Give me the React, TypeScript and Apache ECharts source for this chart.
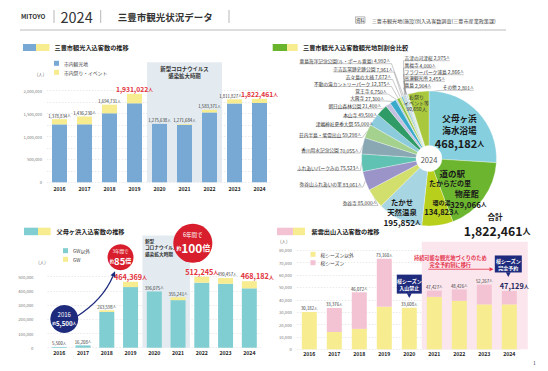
import React, { useEffect, useRef } from 'react';
import * as echarts from 'echarts';

const FONT = '"Noto Sans CJK JP", "Noto Sans", sans-serif';

// ---------------- data ----------------
const YEARS = ['2016', '2017', '2018', '2019', '2020', '2021', '2022', '2023', '2024'];

// 三豊市観光入込客数の推移
const CITY_SPOTS = [1264834, 1266230, 1506731, 1725022, 1275638, 1256684, 1525371, 1721827, 1731811];
const CITY_EVENTS = [114000, 170000, 188000, 206000, 0, 15000, 58000, 90000, 90650];
const CITY_TOTALS = [1378834, 1436230, 1694731, 1931022, 1275638, 1271684, 1583371, 1811827, 1822461];
const CITY_HIGHLIGHT = [3, 8];
const CITY_COVID = [4, 6];

// 父母ヶ浜入込客数の推移
const BEACH_OTHER = [5500, 16208, 252000, 427000, 396075, 335000, 458000, 450457, 418182];
const BEACH_GW = [0, 0, 11598, 37369, 0, 20241, 54245, 40000, 50000];
const BEACH_TOTALS = [5500, 16208, 263598, 464369, 396075, 355241, 512245, 490457, 468182];
const BEACH_HIGHLIGHT = [3, 6, 8];
const BEACH_COVID = [4, 5];

// 紫雲出山入込客数の推移
const SHIUDE_OTHER = [30182, 14000, 16500, 34400, 33608, 42400, 39200, 36300, 36300];
const SHIUDE_SAKURA = [0, 19376, 29572, 38760, 0, 5027, 9226, 15967, 10829];
const SHIUDE_TOTALS = [30182, 33376, 46072, 73160, 33608, 47427, 48426, 52267, 47129];
const SHIUDE_HIGHLIGHT = [8];
const SHIUDE_RESERVE = [5, 8];

// 観光地別割合 2024
const PIE_NAMES = [
  '父母ヶ浜海水浴場', '道の駅たからだの里物産館', '環の湯', 'たかせ天然温泉', '弥谷寺',
  '弥谷山ふれあいの里', 'ふれあいパークみの', '香川用水記念公園', '荘内半島・紫雲出山', '津嶋神社夏季大祭',
  '本山寺', '朝日山森林公園', '大興寺', '覚王寺', '不動の滝カントリーパーク',
  '志々島の大楠', '宗吉瓦窯跡史跡公園', '粟島海洋記念公園(ル・ポール粟島)', '吉津の河津桜', '萬福寺',
  'フラワーパーク浦島', '高瀬観光所', '蔦島', 'その他', 'お祭り・イベント等',
];
const PIE_VALUES = [
  468182, 329066, 134823, 195852, 85000,
  83061, 75523, 70055, 59298, 55000,
  49500, 21400, 27300, 6750, 12375,
  7672, 7961, 4992, 2975, 4000,
  2866, 2455, 2904, 2801, 90650,
];
const PIE_TOTAL = 1822461;
const PIE_YEAR = '2024';

// ---------------- styles / layout ----------------
const BLUE = '#78a9d4';
const YELLOW = '#f7ec8f';
const TEAL = '#80cdd2';
const PINK = '#f4c3d3';
const GREEN = '#6ab42d';
const NAVY = '#1e2b7d';
const RED = '#d81e2c';

const PIE_COLORS = [
  '#85cfdf', '#6cb52f', '#b8cf1c', '#a8d5e2', '#d3df6d',
  '#9a94c9', '#60c2b2', '#8aa8b4', '#a4d28e', '#8ccbdc',
  '#2f9c68', '#c3c1df', '#3aaacb', '#a9c8e2', '#8dbf40',
  '#d6e57c', '#7ab8d5', '#b7d3a0', '#5fb4c8', '#9ea6d2',
  '#9cd2c4', '#c6d9e7', '#7db7a5', '#cbe4ef', '#a9c83e',
];
const PIE_CX = 429;
const PIE_CY = 158.5;
// [mode, dx, dy] relative to pie centre: C inside centred, IL inside left, L/R outside columns
const PIE_LABEL_LAYOUT: [string, number, number][] = [
  ['C', 30.5, -27.2], ['IL', 0, 30.5], ['C', 12.5, 49.2], ['C', -27, 53.5], ['L', -52.5, 44],
  ['L', -67.5, 25.5], ['L', -70, 9], ['L', -70.5, -8.5], ['L', -68, -24], ['L', -56, -35],
  ['L', -52, -44], ['L', -48, -52.8], ['L', -45, -60.5], ['L', -42.5, -67.5], ['L', -39, -75],
  ['L', -38, -82], ['L', -36.5, -89.5], ['L', -39, -97.8], ['R', -24.5, -100.8], ['R', -24.5, -93.5],
  ['R', -24.5, -86.8], ['R', -24.5, -80.2], ['R', -24.5, -73.5], ['R', 13.7, -71.2], ['C', -12.5, -55.8],
];
// per-year horizontal nudges of the total labels (px)
const CITY_LABEL_SHIFT: Record<number, number> = { 7: -4 };
const BEACH_LABEL_SHIFT: Record<number, number> = { 7: 1.5, 8: 8 };
const SHIUDE_LABEL_SHIFT: Record<number, number> = { 8: 5 };

const fmt = (v: number) => v.toLocaleString('en-US');

function txt(x: number, y: number, text: string, size: number, o: any = {}) {
  const align = o.align ?? 'left';
  return {
    type: 'text', x, y, silent: true, z: o.z ?? 50,
    style: {
      text, fontSize: size, fontFamily: FONT, fill: o.fill ?? '#333', fontWeight: o.weight ?? 'normal',
      align, textAlign: align, verticalAlign: 'middle', textVerticalAlign: 'middle',
      lineHeight: o.lh, rich: o.rich,
    },
  };
}

function xAxis(gridIndex: number, margin: number) {
  return {
    type: 'category', gridIndex, data: YEARS,
    axisLine: { show: false }, axisTick: { show: false },
    axisLabel: { fontSize: 5.2, fontWeight: 'bold', color: '#222', fontFamily: FONT, margin },
  };
}
function yAxis(gridIndex: number, max: number, interval: number, step: number, margin: number) {
  return {
    type: 'value', gridIndex, min: 0, max, interval,
    axisLine: { show: false }, axisTick: { show: false },
    axisLabel: {
      fontSize: 4.2, color: '#777', fontFamily: FONT, margin,
      formatter: (v: number) => (v % step === 0 ? fmt(v) : ''),
    },
    splitLine: { lineStyle: { color: '#d4d4d4', width: 0.5, type: [1.5, 1.5] } },
  };
}
function stackBar(name: string, gi: number, stack: string, data: number[], color: string) {
  return { type: 'bar', name, xAxisIndex: gi, yAxisIndex: gi, stack, barWidth: 15, data, itemStyle: { color }, silent: true };
}
function totalBar(gi: number, totals: number[], hi: number[], hiColor: string, hiSize: number, shift: Record<number, number>) {
  return {
    type: 'bar', name: 'total' + gi, xAxisIndex: gi, yAxisIndex: gi, barWidth: 15, barGap: '-100%',
    itemStyle: { color: 'rgba(0,0,0,0)' }, silent: true, z: 3,
    data: totals.map((v, i) => {
      const label: any = {};
      if (hi.includes(i)) label.formatter = `{h|${fmt(v)}}{hu|人}`;
      if (shift[i]) label.offset = [shift[i], 0];
      return { value: v, label: Object.keys(label).length ? label : undefined };
    }),
    label: {
      show: true, position: 'top', distance: 1.5,
      formatter: (p: any) => `{n|${fmt(p.value)}}{u|人}`,
      rich: {
        n: { fontSize: 4.3, color: '#333', fontFamily: FONT },
        u: { fontSize: 3.6, color: '#333', fontFamily: FONT },
        h: { fontSize: hiSize, color: hiColor, fontWeight: 'bold', fontFamily: FONT },
        hu: { fontSize: hiSize * 0.7, color: hiColor, fontWeight: 'bold', fontFamily: FONT },
      },
    },
  };
}

function arrowHead(tip: number[], from: number[], len: number, half: number) {
  const dx = tip[0] - from[0], dy = tip[1] - from[1];
  const l = Math.hypot(dx, dy) || 1;
  const ux = dx / l, uy = dy / l;
  const bx = tip[0] - ux * len, by = tip[1] - uy * len;
  return { base: [bx, by], points: [[tip[0], tip[1]], [bx - uy * half, by + ux * half], [bx + uy * half, by - ux * half]] };
}

function ctext(x: number, y: number, text: string, size: number, fill: string, o: any = {}) {
  const align = o.align ?? 'center';
  return {
    type: 'text', x, y,
    style: {
      text, fontSize: size, fontFamily: FONT, fill, fontWeight: o.weight ?? 'bold',
      align, textAlign: align, verticalAlign: o.va ?? 'middle', textVerticalAlign: o.va ?? 'middle',
      lineHeight: o.lh, rich: o.rich,
    },
  };
}

const whiteRich = (s: number, b: number, t: number) => ({
  s: { fontSize: s, fill: '#fff', fontFamily: FONT, fontWeight: 'bold' },
  b: { fontSize: b, fill: '#fff', fontFamily: FONT, fontWeight: 'bold' },
  t: { fontSize: t, fill: '#fff', fontFamily: FONT, fontWeight: 'bold' },
});

function buildOption() {
  const pieData = PIE_NAMES.map((name, i) => {
    const mode = PIE_LABEL_LAYOUT[i][0];
    const item: any = { name, value: PIE_VALUES[i], itemStyle: { color: PIE_COLORS[i] } };
    if (mode === 'C' || mode === 'IL') item.labelLine = { show: false };
    return item;
  });
  const D = '#1a1a1a';
  pieData[0].label = {
    position: 'inside',
    formatter: (p: any) => `{a|父母ヶ浜}\n{a|海水浴場}\n{n|${fmt(p.value)}}{u|人}`,
    rich: {
      a: { fontSize: 8.6, lineHeight: 12, fontWeight: 'bold', color: D, fontFamily: FONT },
      n: { fontSize: 11, lineHeight: 15, fontWeight: 'bold', color: D, fontFamily: FONT },
      u: { fontSize: 7, lineHeight: 15, fontWeight: 'bold', color: D, fontFamily: FONT },
    },
  };
  pieData[1].label = {
    position: 'inside', align: 'left',
    formatter: (p: any) => `{a|道の駅}\n{b|たからだの里}\n{c|物産館}\n{n|${fmt(p.value)}}{u|人}`,
    rich: {
      a: { fontSize: 8.5, lineHeight: 9, fontWeight: 'bold', color: D, fontFamily: FONT, align: 'left', padding: [0, 0, 0, 10.5] },
      b: { fontSize: 7, lineHeight: 10, fontWeight: 'bold', color: D, fontFamily: FONT, align: 'left' },
      c: { fontSize: 8, lineHeight: 11, fontWeight: 'bold', color: D, fontFamily: FONT, align: 'left', padding: [0, 0, 0, 25.7] },
      n: { fontSize: 8, lineHeight: 10.5, fontWeight: 'bold', color: D, fontFamily: FONT, align: 'left', padding: [0, 0, 0, 21] },
      u: { fontSize: 5.5, lineHeight: 10.5, fontWeight: 'bold', color: D, fontFamily: FONT, align: 'left' },
    },
  };
  pieData[2].label = {
    position: 'inside',
    formatter: (p: any) => `{a|環の湯}\n{n|${fmt(p.value)}}{u|人}`,
    rich: {
      a: { fontSize: 6, lineHeight: 8, fontWeight: 'bold', color: D, fontFamily: FONT },
      n: { fontSize: 7.6, lineHeight: 10, fontWeight: 'bold', color: D, fontFamily: FONT },
      u: { fontSize: 5.2, lineHeight: 10, fontWeight: 'bold', color: D, fontFamily: FONT },
    },
  };
  pieData[3].label = {
    position: 'inside',
    formatter: (p: any) => `{a|たかせ}\n{a|天然温泉}\n{n|${fmt(p.value)}}{u|人}`,
    rich: {
      a: { fontSize: 7.4, lineHeight: 9.8, fontWeight: 'bold', color: D, fontFamily: FONT },
      n: { fontSize: 8.2, lineHeight: 10.5, fontWeight: 'bold', color: D, fontFamily: FONT },
      u: { fontSize: 5.5, lineHeight: 10.5, fontWeight: 'bold', color: D, fontFamily: FONT },
    },
  };
  pieData[24].label = {
    position: 'inside',
    formatter: (p: any) => `{a|お祭り}\n{a|イベント等}\n{a|${fmt(p.value)}人}`,
    rich: { a: { fontSize: 5, lineHeight: 6, color: '#333', fontFamily: FONT } },
  };

  const series: any[] = [
    // chart 1
    stackBar('市内観光地', 0, 'city', CITY_SPOTS, BLUE),
    stackBar('市内祭り・イベント', 0, 'city', CITY_EVENTS, YELLOW),
    totalBar(0, CITY_TOTALS, CITY_HIGHLIGHT, '#e2323c', 6.8, CITY_LABEL_SHIFT),
    {
      type: 'custom', xAxisIndex: 0, yAxisIndex: 0, z: 1, silent: true, data: [CITY_COVID],
      renderItem: (params: any, api: any) => {
        const band = api.size([1, 0])[0];
        const b = api.coord([api.value(0), 0]);
        const t = api.coord([api.value(1), 2620000]);
        const x0 = b[0] - band / 2, x1 = t[0] + band / 2;
        return {
          type: 'group', children: [
            { type: 'rect', shape: { x: x0, y: t[1], width: x1 - x0, height: b[1] - t[1] }, style: { fill: '#e3ebf0' } },
            ctext((x0 + x1) / 2, t[1] + 3, '新型コロナウイルス\n感染拡大時期', 5.4, '#333', { va: 'top', lh: 7 }),
          ],
        };
      },
    },
    // chart 2 pie
    {
      type: 'pie', center: [PIE_CX, PIE_CY], radius: [13, 67.5], startAngle: 90, clockwise: true,
      avoidLabelOverlap: false, silent: true, z: 2,
      itemStyle: { borderColor: '#fff', borderWidth: 0.3 },
      label: {
        show: true, position: 'outside', fontFamily: FONT, fontSize: 4.7, color: '#333',
        formatter: (p: any) => `{t|${p.name}} {v|${fmt(p.value)}}{u|人}`,
        rich: {
          t: { fontSize: 4.7, color: '#333', fontFamily: FONT },
          v: { fontSize: 4.9, color: '#333', fontFamily: FONT },
          u: { fontSize: 3.8, color: '#333', fontFamily: FONT },
        },
      },
      labelLine: { show: true, length: 4, length2: 4, lineStyle: { color: '#777', width: 0.4 } },
      labelLayout: (p: any) => {
        const [mode, dx, dy] = PIE_LABEL_LAYOUT[p.dataIndex];
        const x = PIE_CX + dx, y = PIE_CY + dy;
        if (mode === 'C') return { x, y, align: 'center', verticalAlign: 'middle' };
        if (mode === 'IL') return { x, y, align: 'left', verticalAlign: 'middle' };
        const w = p.labelRect.width;
        const edge = p.labelLinePoints ? p.labelLinePoints[0] : [PIE_CX, PIE_CY];
        const uy = y + 3;
        if (mode === 'L') {
          return { x, y, align: 'right', verticalAlign: 'middle', labelLinePoints: [edge, [x + 1.5, uy], [x - w, uy]] };
        }
        return { x, y, align: 'left', verticalAlign: 'middle', labelLinePoints: [edge, [x - 1, uy], [x + w, uy]] };
      },
      data: pieData,
    },
    // chart 3
    stackBar('GW以外', 1, 'beach', BEACH_OTHER, TEAL),
    stackBar('GW', 1, 'beach', BEACH_GW, YELLOW),
    totalBar(1, BEACH_TOTALS, BEACH_HIGHLIGHT, '#e2323c', 7.3, BEACH_LABEL_SHIFT),
    {
      type: 'custom', xAxisIndex: 1, yAxisIndex: 1, z: 1, silent: true, data: [BEACH_COVID],
      renderItem: (params: any, api: any) => {
        const band = api.size([1, 0])[0];
        const b = api.coord([api.value(0), 0]);
        const t = api.coord([api.value(1), 790000]);
        const x0 = b[0] - band / 2, x1 = t[0] + band / 2;
        return {
          type: 'group', children: [
            { type: 'rect', shape: { x: x0, y: t[1], width: x1 - x0, height: b[1] - t[1] }, style: { fill: '#e3ebf0' } },
            ctext(x0 + 2.5, t[1] + 2, '新型\nコロナウイルス\n感染拡大時期', 4.7, '#333', { va: 'top', lh: 6.6, align: 'left' }),
          ],
        };
      },
    },
    {
      type: 'custom', xAxisIndex: 1, yAxisIndex: 1, z: 10, silent: true, data: [[0, 0]],
      renderItem: (params: any, api: any) => {
        const base = api.coord([0, 0]);
        const t19 = api.coord([3, BEACH_TOTALS[3]]);
        const t22 = api.coord([6, BEACH_TOTALS[6]]);
        const navy = [base[0] + 5, base[1] - 28.7];
        const red1 = [t19[0] - 10, t19[1] - 24.5];
        const red2 = [t22[0] - 9, t22[1] - 31.7];
        const start = [navy[0] + 12.5, navy[1] - 2.5];
        const end = [t19[0] - 15.5, t19[1] - 10.5];
        const cp = [(start[0] + end[0]) / 2 + 7, (start[1] + end[1]) / 2 + 6];
        const head = arrowHead(end, cp, 5.5, 2.6);
        return {
          type: 'group', children: [
            { type: 'bezierCurve', shape: { x1: start[0], y1: start[1], x2: head.base[0], y2: head.base[1], cpx1: cp[0], cpy1: cp[1] }, style: { stroke: NAVY, lineWidth: 1.3, fill: null } },
            { type: 'polygon', shape: { points: head.points }, style: { fill: NAVY } },
            { type: 'circle', shape: { cx: navy[0], cy: navy[1], r: 14 }, style: { fill: NAVY } },
            ctext(navy[0], navy[1] - 5, '2016', 6, '#fff', { weight: 'normal' }),
            ctext(navy[0], navy[1] + 4, '{s|約}{b|5,500}{t|人}', 6, '#fff', { rich: whiteRich(3.8, 6.2, 3.8) }),
            { type: 'circle', shape: { cx: red1[0], cy: red1[1], r: 13 }, style: { fill: RED } },
            ctext(red1[0], red1[1] - 6, '3年間で', 4.5, '#fff', { weight: 'normal' }),
            ctext(red1[0], red1[1] + 3.5, '{s|約}{b|85}{t|倍}', 9, '#fff', { rich: whiteRich(4.2, 9.5, 6) }),
            { type: 'circle', shape: { cx: red2[0], cy: red2[1], r: 19.5 }, style: { fill: RED } },
            ctext(red2[0], red2[1] - 8.5, '6年間で', 5.5, '#fff', { weight: 'normal' }),
            ctext(red2[0] + 0.5, red2[1] + 4.5, '{s|約}{b|100}{t|倍}', 12, '#fff', { rich: whiteRich(4.8, 12, 7.8) }),
          ],
        };
      },
    },
    // chart 4
    stackBar('桜シーズン以外', 2, 'shiude', SHIUDE_OTHER, YELLOW),
    stackBar('桜シーズン', 2, 'shiude', SHIUDE_SAKURA, PINK),
    totalBar(2, SHIUDE_TOTALS, SHIUDE_HIGHLIGHT, '#1f2a5c', 7.3, SHIUDE_LABEL_SHIFT),
    {
      type: 'custom', xAxisIndex: 2, yAxisIndex: 2, z: 1, silent: true, data: [SHIUDE_RESERVE],
      renderItem: (params: any, api: any) => {
        const band = api.size([1, 0])[0];
        const b = api.coord([api.value(0), 0]);
        const t = api.coord([api.value(1), 87000]);
        const x0 = b[0] - band / 2, x1 = t[0] + band / 2 + 6;
        return { type: 'rect', shape: { x: x0, y: t[1], width: x1 - x0, height: b[1] - t[1] }, style: { fill: '#fbe6ee' } };
      },
    },
    {
      type: 'custom', xAxisIndex: 2, yAxisIndex: 2, z: 10, silent: true, data: [SHIUDE_RESERVE],
      renderItem: (params: any, api: any) => {
        const band = api.size([1, 0])[0];
        const b = api.coord([api.value(0), 87000]);
        const x0 = b[0] - band / 2, top = b[1];
        const ay = top + 27.6;
        const tip = [x0 + 71.7, ay];
        const head = arrowHead(tip, [x0, ay], 4, 2);
        const a1 = api.coord([4, SHIUDE_TOTALS[4]]);
        const a2 = api.coord([8, SHIUDE_TOTALS[8]]);
        const tip1 = [a1[0], a1[1] - 9.6];
        const tip2 = [a2[0] - 1, a2[1] - 14];
        const box = (tp: number[], w: number, h: number, text: string) => {
          const by = tp[1] - 4.5 - h;
          return [
            { type: 'rect', shape: { x: tp[0] - w / 2, y: by, width: w, height: h }, style: { fill: NAVY } },
            { type: 'polygon', shape: { points: [[tp[0] - 2.5, by + h - 0.3], [tp[0] + 2.5, by + h - 0.3], [tp[0], tp[1]]] }, style: { fill: NAVY } },
            ctext(tp[0], by + h / 2, text, 5, '#fff', { lh: 6.8 }),
          ];
        };
        return {
          type: 'group', children: [
            ctext(x0 + 28.5, top + 16, '持続可能な観光地づくりのため', 5.2, '#e5304a'),
            ctext(x0 + 28.5, top + 22.6, '完全予約制に移行', 5.2, '#e5304a'),
            { type: 'line', shape: { x1: x0 + 6.5, y1: ay, x2: head.base[0], y2: ay }, style: { stroke: '#e5304a', lineWidth: 0.8 } },
            { type: 'polygon', shape: { points: head.points }, style: { fill: '#e5304a' } },
            ...box(tip1, 25, 19, '桜シーズン\n入山禁止'),
            ...box(tip2, 27, 17, '桜シーズン\n完全予約'),
          ],
        };
      },
    },
  ];

  const legendBase = {
    orient: 'vertical', icon: 'rect', itemWidth: 5, itemHeight: 5, padding: 0,
    textStyle: { fontSize: 4.8, color: '#444', fontFamily: FONT, lineHeight: 6 },
    selectedMode: false,
  };

  const graphic = [
    // header
    txt(21, 16.7, 'MITOYO', 6.3, { weight: 'bold', fill: '#333' }),
    { type: 'line', shape: { x1: 54, y1: 10, x2: 54, y2: 23 }, style: { stroke: '#888', lineWidth: 0.6 } },
    txt(60.5, 16.5, PIE_YEAR, 14.5, { fill: '#333' }),
    { type: 'line', shape: { x1: 100.7, y1: 10, x2: 100.7, y2: 23 }, style: { stroke: '#888', lineWidth: 0.6 } },
    txt(117.7, 16.7, '三豊市観光状況データ', 9.5, { weight: 'bold', fill: '#333' }),
    { type: 'line', shape: { x1: 229, y1: 10, x2: 229, y2: 23 }, style: { stroke: '#888', lineWidth: 0.6 } },
    { type: 'rect', shape: { x: 355.5, y: 16.8, width: 9.5, height: 6.4 }, style: { fill: 'none', stroke: '#555', lineWidth: 0.4 } },
    txt(360.2, 20, '資料', 4.3, { align: 'center', fill: '#444' }),
    txt(371.7, 20, '三豊市観光地(施設)別入込客数調査(三豊市産業政策課)', 5.1, { fill: '#444' }),
    { type: 'line', shape: { x1: 20, y1: 30, x2: 506, y2: 30 }, style: { stroke: '#bbb', lineWidth: 1 } },
    // section titles
    { type: 'rect', shape: { x: 23, y: 44, width: 13, height: 7 }, style: { fill: BLUE } },
    { type: 'rect', shape: { x: 36, y: 44, width: 13.5, height: 7 }, style: { fill: YELLOW } },
    txt(54.5, 47.5, '三豊市観光入込客数の推移', 6.2, { weight: 'bold', fill: '#222' }),
    { type: 'rect', shape: { x: 272.7, y: 44, width: 14.3, height: 7 }, style: { fill: GREEN } },
    { type: 'rect', shape: { x: 287, y: 44, width: 10.7, height: 7 }, style: { fill: YELLOW } },
    txt(303, 47.5, '三豊市観光入込客数観光地別割合比較', 6.2, { weight: 'bold', fill: '#222' }),
    { type: 'rect', shape: { x: 24, y: 227.7, width: 14, height: 7.5 }, style: { fill: TEAL } },
    { type: 'rect', shape: { x: 38, y: 227.7, width: 12.7, height: 7.5 }, style: { fill: YELLOW } },
    txt(56.5, 231.2, '父母ヶ浜入込客数の推移', 6.2, { weight: 'bold', fill: '#222' }),
    { type: 'rect', shape: { x: 277, y: 227.7, width: 16, height: 7.5 }, style: { fill: PINK } },
    { type: 'rect', shape: { x: 293, y: 227.7, width: 12, height: 7.5 }, style: { fill: YELLOW } },
    txt(311.5, 231.2, '紫雲出山入込客数の推移', 6.2, { weight: 'bold', fill: '#222' }),
    // unit labels
    txt(36.7, 74, '(人)', 4.5, { fill: '#666' }),
    txt(38.3, 261.7, '(人)', 4.5, { fill: '#666' }),
    txt(280, 240.7, '(人)', 4.5, { fill: '#666' }),
    // pie centre & total
    txt(PIE_CX, PIE_CY + 0.5, PIE_YEAR, 7.5, { align: 'center', fill: '#555' }),
    txt(495, 216, '合計', 7.6, { align: 'center', weight: 'bold', fill: '#1a1a1a' }),
    txt(497, 230.5, `{n|${fmt(PIE_TOTAL)}}{u|人}`, 12, {
      align: 'center', fill: '#1a1a1a',
      rich: {
        n: { fontSize: 12.3, fontWeight: 'bold', fill: '#1a1a1a', fontFamily: FONT },
        u: { fontSize: 8, fontWeight: 'bold', fill: '#1a1a1a', fontFamily: FONT },
      },
    }),
    txt(534.3, 362.3, '1', 5, { align: 'center', fill: '#444' }),
  ];

  return {
    animation: false,
    backgroundColor: '#fff',
    textStyle: { fontFamily: FONT },
    grid: [
      { left: 47, top: 90.7, width: 225, height: 91.6 },
      { left: 47.4, top: 276.7, width: 213.8, height: 71 },
      { left: 296.8, top: 250.3, width: 225, height: 99 },
    ],
    xAxis: [xAxis(0, 4), xAxis(1, 2), xAxis(2, 1.5)],
    yAxis: [
      yAxis(0, 2000000, 250000, 500000, 5),
      yAxis(1, 500000, 100000, 100000, 14),
      yAxis(2, 80000, 10000, 10000, 5),
    ],
    legend: [
      { ...legendBase, left: 54, top: 60.3, itemGap: 3, data: ['市内観光地', '市内祭り・イベント'] },
      { ...legendBase, left: 63, top: 247.7, itemGap: 2.6, data: ['GW以外', 'GW'] },
      { ...legendBase, left: 310.5, top: 251.3, itemGap: 2.4, data: ['桜シーズン以外', '桜シーズン'] },
    ],
    graphic,
    series,
  };
}

export default function App() {
  const ref = useRef<HTMLDivElement>(null);
  useEffect(() => {
    document.body.style.margin = '0';
    const chart = echarts.init(ref.current!, undefined, { renderer: 'svg', width: 548, height: 371 });
    chart.setOption(buildOption() as any);
    return () => chart.dispose();
  }, []);
  return (
    <div
      ref={ref}
      style={{ position: 'fixed', left: 0, top: 0, width: 548, height: 371, background: '#fff' }}
    />
  );
}
